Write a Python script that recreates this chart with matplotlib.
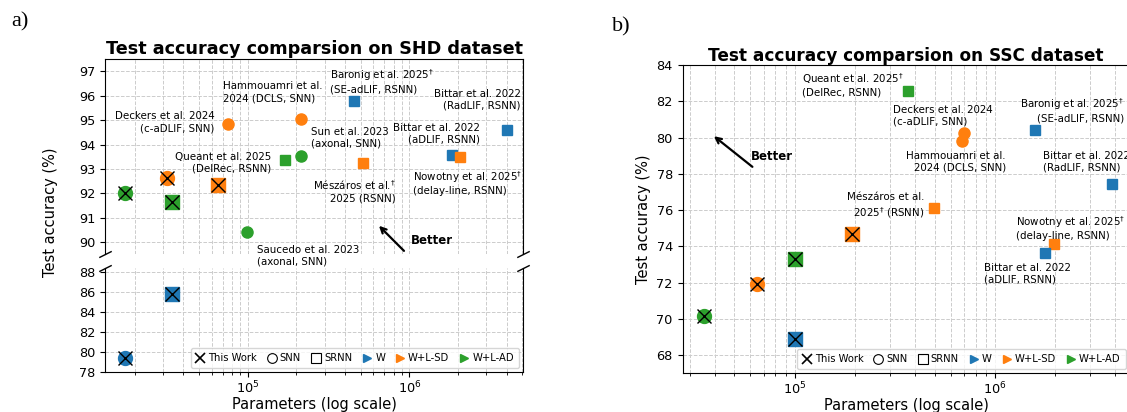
import matplotlib
matplotlib.use("Agg")
import matplotlib.pyplot as plt
from matplotlib.lines import Line2D

# colours per training variant
groups = ["W", "W+L-SD", "W+L-AD"]
group_colors = {"W": "tab:blue", "W+L-SD": "tab:orange", "W+L-AD": "tab:green"}
shape = {"SNN": "o", "SRNN": "s"}

# ---- SHD data (other works) ----
shd_names = ["Deckers", "Saucedo", "Queant", "Sun", "Hammouamri",
             "Baronig", "Meszaros", "Bittar aDLIF", "Nowotny", "Bittar RadLIF"]
shd_params = [75900, 99000, 171000, 213000, 215000,
              457000, 514000, 1.83e6, 2.05e6, 4.02e6]
shd_acc = [94.83, 90.41, 93.36, 93.54, 95.05,
           95.79, 93.23, 93.57, 93.50, 94.59]
shd_group = ["W+L-SD", "W+L-AD", "W+L-AD", "W+L-AD", "W+L-SD",
             "W", "W+L-SD", "W", "W+L-SD", "W"]
shd_type = ["SNN", "SNN", "SRNN", "SNN", "SNN",
            "SRNN", "SRNN", "SRNN", "SRNN", "SRNN"]

# ---- SHD data (this work) ----
shd_tw_params = [17400, 31900, 34200, 65500, 17400, 34200]
shd_tw_acc = [92.00, 92.62, 91.63, 92.34, 79.43, 85.77]
shd_tw_group = ["W+L-AD", "W+L-SD", "W+L-AD", "W+L-SD", "W", "W"]
shd_tw_type = ["SNN", "SNN", "SRNN", "SRNN", "SNN", "SRNN"]

# ---- SSC data (other works) ----
ssc_names = ["Queant", "Deckers", "Hammouamri", "Baronig", "Bittar RadLIF",
             "Meszaros", "Nowotny", "Bittar aDLIF"]
ssc_params = [368000, 702000, 687000, 1.585e6, 3.86e6, 497000, 1.98e6, 1.77e6]
ssc_acc = [82.58, 80.26, 79.80, 80.44, 77.43, 76.12, 74.15, 73.64]
ssc_group = ["W+L-AD", "W+L-SD", "W+L-SD", "W", "W",
             "W+L-SD", "W+L-SD", "W"]
ssc_type = ["SRNN", "SNN", "SNN", "SRNN", "SRNN", "SRNN", "SRNN", "SRNN"]

# ---- SSC data (this work) ----
ssc_tw_params = [35100, 64700, 100000, 100000, 194000]
ssc_tw_acc = [70.16, 71.90, 73.31, 68.88, 74.66]
ssc_tw_group = ["W+L-AD", "W+L-SD", "W+L-AD", "W", "W+L-SD"]
ssc_tw_type = ["SNN", "SNN", "SRNN", "SRNN", "SRNN"]

# annotation labels (text, x, y, ha)
shd_labels = [
    ("Baronig et al. 2025$^{\\dagger}$\n(SE-adLIF, RSNN)", 325000, 97.18, "left"),
    ("Hammouamri et al.\n2024 (DCLS, SNN)", 69900, 96.59, "left"),
    ("Bittar et al. 2022\n(RadLIF, RSNN)", 4.88e6, 96.29, "right"),
    ("Deckers et al. 2024\n(c-aDLIF, SNN)", 62400, 95.36, "right"),
    ("Sun et al. 2023\n(axonal, SNN)", 245000, 94.72, "left"),
    ("Bittar et al. 2022\n(aDLIF, RSNN)", 2.75e6, 94.88, "right"),
    ("Queant et al. 2025\n(DelRec, RSNN)", 139000, 93.69, "right"),
    ("Mészáros et al.$^{\\dagger}$\n2025 (RSNN)", 828000, 92.64, "right"),
    ("Nowotny et al. 2025$^{\\dagger}$\n(delay-line, RSNN)", 1.06e6, 93.01, "left"),
    ("Saucedo et al. 2023\n(axonal, SNN)", 114000, 89.90, "left"),
]
ssc_labels = [
    ("Queant et al. 2025$^{\\dagger}$\n(DelRec, RSNN)", 109000, 83.67, "left"),
    ("Deckers et al. 2024\n(c-aDLIF, SNN)", 309000, 81.81, "left"),
    ("Hammouamri et al.\n2024 (DCLS, SNN)", 1.135e6, 79.26, "right"),
    ("Baronig et al. 2025$^{\\dagger}$\n(SE-adLIF, RSNN)", 4.4e6, 82.27, "right"),
    ("Bittar et al. 2022\n(RadLIF, RSNN)", 1.73e6, 79.26, "left"),
    ("Mészáros et al.\n2025$^{\\dagger}$ (RSNN)", 445000, 76.97, "right"),
    ("Nowotny et al. 2025$^{\\dagger}$\n(delay-line, RSNN)", 1.27e6, 75.79, "left"),
    ("Bittar et al. 2022\n(aDLIF, RSNN)", 877000, 73.09, "left"),
]

ANN_FS = 7.4
TICK_FS = 9.3
LAB_FS = 10.5


def style_ax(ax):
    ax.set_xscale("log")
    ax.grid(True, which="major", linestyle="--", color="#cccccc", linewidth=0.7)
    ax.xaxis.grid(True, which="minor", linestyle="--", color="#cccccc", linewidth=0.7)
    ax.tick_params(labelsize=TICK_FS)
    ax.tick_params(axis="x", which="major", pad=2)
    ax.set_axisbelow(True)


def draw_points(axes, params, acc, grp, typ, this_work=False):
    for p, a, g, t in zip(params, acc, grp, typ):
        for ax in axes:
            if this_work:
                ax.plot(p, a, marker=shape[t], color=group_colors[g],
                        ms=10, mec=group_colors[g], zorder=4)
                ax.plot(p, a, marker="x", color="k", ms=10.5, mew=1.0, zorder=5)
            else:
                ax.plot(p, a, marker=shape[t], color=group_colors[g],
                        ms=8 if t == "SNN" else 7.5, mec=group_colors[g], zorder=3)


def add_legend(ax):
    handles = [
        Line2D([], [], ls="", marker="x", color="k", ms=7, mew=1.2),
        Line2D([], [], ls="", marker="o", mfc="none", mec="k", ms=7, mew=0.8),
        Line2D([], [], ls="", marker="s", mfc="none", mec="k", ms=7, mew=0.8),
    ]
    handles += [Line2D([], [], ls="", marker=">", color=group_colors[g], ms=6)
                for g in groups]
    labels = ["This Work", "SNN", "SRNN"] + groups
    ax.legend(handles, labels, loc="lower right", ncol=6, fontsize=7.2,
              handlelength=0.9, handletextpad=0.35, columnspacing=1.05,
              borderpad=0.5, borderaxespad=0.4)


fig = plt.figure(figsize=(11.27, 4.12), dpi=100)
W, H = 1127.0, 412.0

# ---------------- panel a: SHD (broken axis) ----------------
ax_top = fig.add_axes([105 / W, 1 - 254.3 / H, 418 / W, 195 / H])
ax_bot = fig.add_axes([105 / W, 1 - 372.3 / H, 418 / W, 104.6 / H])
ax_bot.patch.set_alpha(0)
for ax in (ax_top, ax_bot):
    style_ax(ax)
    ax.set_xlim(1.31e4, 5.05e6)
ax_top.set_ylim(89.5, 97.5)
ax_bot.set_ylim(78, 88.4)
ax_top.set_yticks(range(90, 98))
ax_bot.set_yticks(range(78, 89, 2))
ax_top.spines["bottom"].set_visible(False)
ax_bot.spines["top"].set_visible(False)
ax_top.tick_params(axis="x", which="both", bottom=False, labelbottom=False)

d = 0.5
kw = dict(marker=[(-1, -d), (1, d)], markersize=9, linestyle="none",
          color="k", mec="k", mew=1, clip_on=False)
ax_top.plot([0, 1], [0, 0], transform=ax_top.transAxes, **kw)
ax_bot.plot([0, 1], [1, 1], transform=ax_bot.transAxes, **kw)

draw_points([ax_top, ax_bot], shd_params, shd_acc, shd_group, shd_type)
draw_points([ax_top, ax_bot], shd_tw_params, shd_tw_acc, shd_tw_group,
            shd_tw_type, this_work=True)

for txt, x, y, ha in shd_labels:
    ax_top.text(x, y, txt, fontsize=ANN_FS, ha=ha, va="top", zorder=6)

ax_top.annotate("", xy=(631000, 90.75), xytext=(953000, 89.56),
                arrowprops=dict(arrowstyle="->", color="k", lw=1.6),
                annotation_clip=False)
ax_top.text(1.02e6, 90.07, "Better", fontsize=8.5, fontweight="bold",
            ha="left", va="center")

ax_top.set_title("Test accuracy comparsion on SHD dataset",
                 fontsize=12.7, fontweight="bold", pad=4)
ax_bot.set_xlabel("Parameters (log scale)", fontsize=LAB_FS, labelpad=0.5)
fig.text(50 / W, 1 - 212 / H, "Test accuracy (%)", rotation=90,
         fontsize=LAB_FS, ha="center", va="center")
add_legend(ax_bot)

# ---------------- panel b: SSC ----------------
ax_b = fig.add_axes([682.5 / W, 1 - 373.3 / H, 447 / W, 308.3 / H])
style_ax(ax_b)
ax_b.set_xlim(2.75e4, 4.7e6)
ax_b.set_ylim(67, 84)
ax_b.set_yticks(range(68, 85, 2))

draw_points([ax_b], ssc_params, ssc_acc, ssc_group, ssc_type)
draw_points([ax_b], ssc_tw_params, ssc_tw_acc, ssc_tw_group, ssc_tw_type,
            this_work=True)

for txt, x, y, ha in ssc_labels:
    ax_b.text(x, y, txt, fontsize=ANN_FS, ha=ha, va="top", zorder=6)

ax_b.annotate("", xy=(38500, 80.17), xytext=(63000, 78.29),
              arrowprops=dict(arrowstyle="->", color="k", lw=1.6))
ax_b.text(60500, 78.98, "Better", fontsize=8.5, fontweight="bold",
          ha="left", va="center")

ax_b.set_title("Test accuracy comparsion on SSC dataset",
               fontsize=12.2, fontweight="bold", pad=3)
ax_b.set_xlabel("Parameters (log scale)", fontsize=LAB_FS, labelpad=0.5)
ax_b.set_ylabel("Test accuracy (%)", fontsize=LAB_FS)
add_legend(ax_b)

fig.text(11 / W, 1 - 22 / H, "a)", fontsize=16, family="Liberation Serif",
         ha="left", va="center")
fig.text(612 / W, 1 - 27 / H, "b)", fontsize=16, family="Liberation Serif",
         ha="left", va="center")

fig.savefig("out.png", dpi=100)
